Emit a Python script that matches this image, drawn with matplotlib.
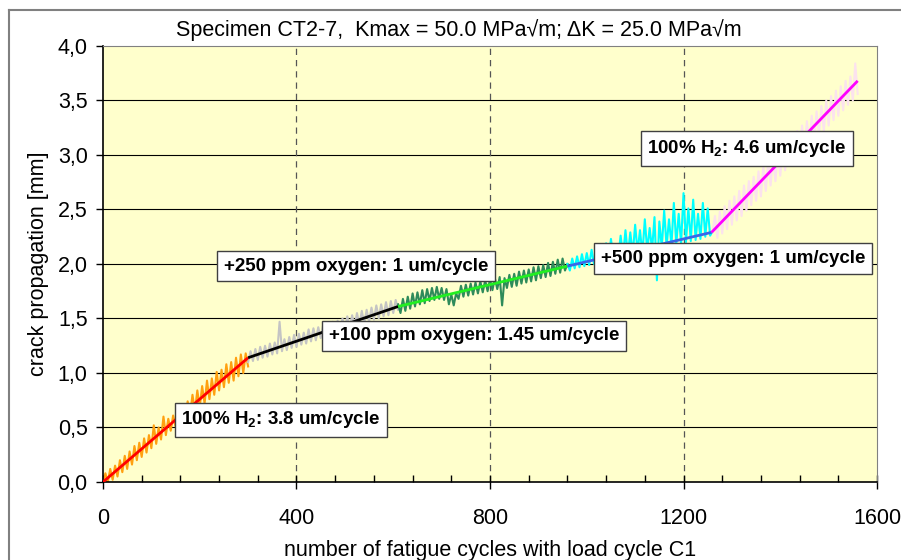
import numpy as np
import matplotlib
matplotlib.use("Agg")
import matplotlib.pyplot as plt
from matplotlib.ticker import MultipleLocator, FuncFormatter
from matplotlib.lines import Line2D

plt.rcParams['font.family'] = ['Liberation Sans', 'DejaVu Sans']
plt.rcParams['mathtext.fontset'] = 'custom'
plt.rcParams['mathtext.rm'] = 'Liberation Sans'
plt.rcParams['mathtext.bf'] = 'Liberation Sans:bold'

# measured crack length, one list per gas condition (x step 5 cycles)
x_h2_a = np.arange(0, 301, 5)
y_h2_a = [0.00, 0.08, 0.00, 0.12, 0.02, 0.15, 0.05, 0.20, 0.09, 0.24, 0.12,
          0.28, 0.16, 0.33, 0.20, 0.36, 0.23, 0.40, 0.27, 0.43, 0.31,
          0.52, 0.35, 0.50, 0.39, 0.60, 0.43, 0.58, 0.47, 0.61, 0.51,
          0.66, 0.54, 0.70, 0.58, 0.74, 0.62, 0.80, 0.65, 0.84, 0.69,
          0.88, 0.72, 0.93, 0.76, 0.95, 0.80, 1.01, 0.84, 1.03, 0.87,
          1.08, 0.91, 1.10, 0.93, 1.14, 0.97, 1.17, 1.00, 1.18, 1.06]

x_o2_100 = np.arange(300, 611, 5)
y_o2_100 = [1.10, 1.20, 1.11, 1.22, 1.12, 1.24, 1.14, 1.25, 1.15, 1.27, 1.17,
            1.28, 1.18, 1.47, 1.20, 1.31, 1.21, 1.33, 1.23, 1.35, 1.24,
            1.36, 1.26, 1.37, 1.27, 1.40, 1.29, 1.41, 1.30, 1.42, 1.32,
            1.44, 1.33, 1.45, 1.35, 1.47, 1.36, 1.48, 1.38, 1.50, 1.39,
            1.52, 1.41, 1.53, 1.42, 1.55, 1.44, 1.57, 1.45, 1.58, 1.47,
            1.60, 1.49, 1.62, 1.50, 1.63, 1.52, 1.65, 1.53, 1.66, 1.55,
            1.67, 1.58]

x_o2_250 = np.arange(610, 961, 5)
y_o2_250 = [1.63, 1.55, 1.68, 1.57, 1.70, 1.59, 1.73, 1.61, 1.74, 1.63,
            1.76, 1.64, 1.77, 1.66, 1.78, 1.67, 1.79, 1.68, 1.78, 1.67,
            1.77, 1.63, 1.72, 1.62, 1.73, 1.68, 1.80, 1.70, 1.81, 1.71,
            1.82, 1.72, 1.83, 1.73, 1.84, 1.74, 1.85, 1.75, 1.86, 1.76,
            1.87, 1.77, 1.88, 1.62, 1.87, 1.78, 1.90, 1.79, 1.91, 1.80,
            1.93, 1.82, 1.94, 1.83, 1.95, 1.84, 1.97, 1.85, 1.98, 1.87,
            1.99, 1.88, 2.01, 1.89, 2.02, 1.91, 2.04, 1.92, 2.05, 1.94,
            2.00]

x_o2_500 = np.arange(960, 1261, 5)
y_o2_500 = [2.00, 1.94, 2.05, 1.96, 2.07, 1.97, 2.09, 1.98, 2.10, 1.99,
            2.13, 2.00, 2.11, 2.01, 2.15, 2.02, 2.19, 2.03, 2.23, 2.05,
            2.13, 2.06, 2.26, 2.07, 2.31, 2.08, 2.29, 2.09, 2.36, 2.11,
            2.31, 2.09, 2.41, 2.12, 2.33, 2.13, 2.43, 1.85, 2.39, 2.15,
            2.49, 2.16, 2.41, 2.17, 2.56, 2.18, 2.46, 2.19, 2.65, 2.20,
            2.51, 2.21, 2.59, 2.22, 2.46, 2.23, 2.56, 2.25, 2.51, 2.26,
            2.30]

x_h2_b = np.arange(1260, 1561, 5)
y_h2_b = [2.30, 2.44, 2.24, 2.48, 2.28, 2.53, 2.32, 2.58, 2.36, 2.62, 2.40,
          2.67, 2.44, 2.72, 2.49, 2.76, 2.54, 2.80, 2.58, 2.85, 2.62,
          2.90, 2.67, 2.94, 2.72, 2.99, 2.76, 3.04, 2.81, 3.08, 2.86,
          3.13, 2.90, 3.18, 2.95, 3.22, 3.00, 3.27, 3.04, 3.31, 3.09,
          3.36, 3.13, 3.40, 3.18, 3.45, 3.22, 3.50, 3.27, 3.54, 3.32,
          3.59, 3.36, 3.63, 3.41, 3.68, 3.46, 3.72, 3.50, 3.84, 3.56]

# fitted straight lines: start/end cycles and crack length
fit_x = [[0, 300], [300, 610], [610, 960], [960, 1258], [1258, 1560]]
fit_y = [[0.0, 1.14], [1.14, 1.61], [1.61, 1.98], [1.98, 2.29], [2.29, 3.68]]

raw_colors = ['#FFA010', '#C4C4C4', '#2E8B5A', '#00FFFF', '#FBE2EE']
fit_colors = ['#FF0000', '#000000', '#22EE22', '#3A66E8', '#FF00FF']

labels = ['100% H$_\\mathbf{2}$: 3.8 um/cycle',
          '+100 ppm oxygen: 1.45 um/cycle',
          '+250 ppm oxygen: 1 um/cycle',
          '+500 ppm oxygen: 1 um/cycle',
          '100% H$_\\mathbf{2}$: 4.6 um/cycle']
label_x = [368, 767, 523, 1302, 1331]
label_y = [0.57, 1.34, 1.98, 2.05, 3.06]

fig = plt.figure(figsize=(9.01, 5.60), dpi=100)
ax = fig.add_axes([0.1143, 0.1393, 0.8591, 0.7786])
ax.set_facecolor('#FFFFCC')

# grid
for yv in np.arange(0.5, 4.0, 0.5):
    ax.axhline(yv, color='#000000', lw=0.8, zorder=1)
for xv in [400, 800, 1200]:
    ax.axvline(xv, color='#555555', lw=0.9, ls=(0, (5, 4)), zorder=1)

raw_x = [x_h2_a, x_o2_100, x_o2_250, x_o2_500, x_h2_b]
raw_y = [y_h2_a, y_o2_100, y_o2_250, y_o2_500, y_h2_b]
for xs, ys, c in zip(raw_x, raw_y, raw_colors):
    ax.plot(xs, ys, color=c, lw=1.5, zorder=2)
for xs, ys, c in zip(fit_x, fit_y, fit_colors):
    ax.plot(xs, ys, color=c, lw=2, zorder=3, solid_capstyle='butt')

for t, lx, ly in zip(labels, label_x, label_y):
    ax.text(lx, ly, t, fontsize=13.5, fontweight='bold', ha='center', va='center',
            zorder=5,
            bbox=dict(boxstyle='square,pad=0.35', fc='white', ec='#404040', lw=1))

ax.set_xlim(0, 1600)
ax.set_ylim(0, 4.0)
ax.xaxis.set_major_locator(MultipleLocator(400))
ax.xaxis.set_minor_locator(MultipleLocator(80))
ax.yaxis.set_major_locator(MultipleLocator(0.5))
ax.yaxis.set_major_formatter(FuncFormatter(lambda v, p: f"{v:.1f}".replace('.', ',')))
ax.tick_params(axis='x', which='major', direction='inout', length=10, width=1,
               labelsize=15.5, pad=14)
ax.tick_params(axis='x', which='minor', direction='in', length=5, width=1)
ax.tick_params(axis='y', which='major', direction='out', length=5, width=1,
               labelsize=15.5, pad=6)

for s in ['top', 'right']:
    ax.spines[s].set_color('#808080')
for s in ['left', 'bottom']:
    ax.spines[s].set_color('#000000')
    ax.spines[s].set_linewidth(1.2)

ax.set_xlabel('number of fatigue cycles with load cycle C1', fontsize=15.5, labelpad=8)
ax.set_ylabel('crack propagation [mm]', fontsize=15.5, labelpad=6)

fig.text(0.509, 0.946, 'Specimen CT2-7,  Kmax = 50.0 MPa\u221am; \u0394K = 25.0 MPa\u221am',
         fontsize=15.5, ha='center', va='center')

# chart frame
fig.add_artist(Line2D([9 / 901, 1.0], [1 - 10 / 560, 1 - 10 / 560], color='#808080', lw=1.5))
fig.add_artist(Line2D([9 / 901, 9 / 901], [0, 1 - 10 / 560], color='#808080', lw=1.5))

fig.savefig('out.png', dpi=100)
